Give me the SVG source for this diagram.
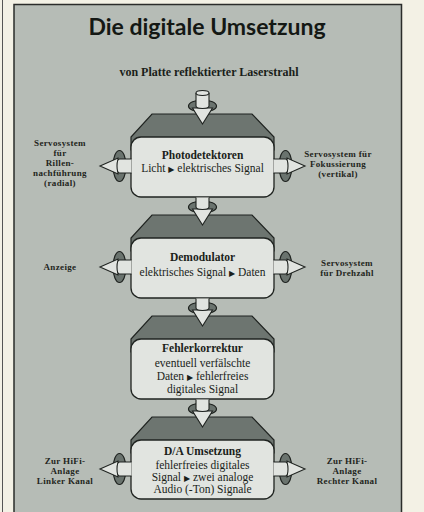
<svg xmlns="http://www.w3.org/2000/svg" width="424" height="512" viewBox="0 0 424 512">
<style>
.bg{fill:#f3f1e5}
.panel{fill:#b6bcb6;stroke:#2a2c2a;stroke-width:1.5}
.box{fill:#e1e4e0;stroke:#1f2320;stroke-width:1.3}
.hood{fill:#6d7570;stroke:#1f2320;stroke-width:1.2}
.disk{fill:#6a736e;stroke:#1f2320;stroke-width:1.2}
.lite{fill:#e1e4e0;stroke:#1f2320;stroke-width:1.1}
.title{font-family:"Lato","DejaVu Sans",sans-serif;font-weight:bold;font-size:23px;fill:#141814}
.sub{font-family:"Liberation Serif",serif;font-weight:bold;font-size:12px;fill:#1a1e1a}
.hd{font-family:"Liberation Serif",serif;font-weight:bold;font-size:11.5px;fill:#1a1e1a}
.tx{font-family:"Liberation Serif",serif;font-size:11.5px;fill:#1a1e1a}
.lb{font-family:"Liberation Serif",serif;font-weight:bold;font-size:9px;letter-spacing:0.35px;fill:#1f2520}
.ar{font-family:"DejaVu Sans",sans-serif;font-size:8px}
</style>
<rect class="bg" x="0" y="0" width="424" height="512"/>
<line x1="2.5" y1="0" x2="2.5" y2="512" stroke="#555" stroke-width="1"/>
<rect class="panel" x="14" y="4.5" width="387.5" height="520"/>
<text class="title" x="207" y="35" text-anchor="middle">Die digitale Umsetzung</text>
<text class="sub" x="209" y="76" text-anchor="middle">von Platte reflektierter Laserstrahl</text>

<g id="node-photodetektoren">
<polygon class="hood" points="152,114 252,114 274,137 274,150 131,150 131,137"/>
<rect class="box" x="131" y="137" width="143" height="60" rx="10"/>
<text class="hd" x="202.5" y="159" text-anchor="middle">Photodetektoren</text>
<text class="tx" x="202.5" y="172" text-anchor="middle">Licht <tspan class="ar">▶</tspan> elektrisches Signal</text>
</g>
<g id="node-demodulator">
<polygon class="hood" points="152,215 252,215 274,238 274,251 131,251 131,238"/>
<rect class="box" x="131" y="238" width="143" height="60" rx="10"/>
<text class="hd" x="202.5" y="261" text-anchor="middle">Demodulator</text>
<text class="tx" x="202.5" y="276" text-anchor="middle">elektrisches Signal <tspan class="ar">▶</tspan> Daten</text>
</g>
<g id="node-fehlerkorrektur">
<polygon class="hood" points="152,316 252,316 274,339 274,352 131,352 131,339"/>
<rect class="box" x="131" y="339" width="143" height="60" rx="10"/>
<text class="hd" x="202.5" y="352" text-anchor="middle">Fehlerkorrektur</text>
<text class="tx" x="202.5" y="367" text-anchor="middle">eventuell verfälschte</text>
<text class="tx" x="202.5" y="380" text-anchor="middle">Daten <tspan class="ar">▶</tspan> fehlerfreies</text>
<text class="tx" x="202.5" y="393" text-anchor="middle">digitales Signal</text>
</g>
<g id="node-da-umsetzung">
<polygon class="hood" points="152,417 252,417 274,440 274,453 131,453 131,440"/>
<rect class="box" x="131" y="440" width="143" height="59" rx="10"/>
<text class="hd" x="202.5" y="455" text-anchor="middle">D/A Umsetzung</text>
<text class="tx" x="202.5" y="469" text-anchor="middle">fehlerfreies digitales</text>
<text class="tx" x="202.5" y="481" text-anchor="middle">Signal <tspan class="ar">▶</tspan> zwei analoge</text>
<text class="tx" x="202.5" y="493" text-anchor="middle">Audio (-Ton) Signale</text>
</g>

<g id="labels">
<text class="lb" text-anchor="middle"><tspan x="60" y="146">Servosystem</tspan><tspan x="60" y="156">für</tspan><tspan x="60" y="166">Rillen-</tspan><tspan x="60" y="176">nachführung</tspan><tspan x="60" y="186">(radial)</tspan></text>
<text class="lb" text-anchor="middle"><tspan x="338" y="156.5">Servosystem für</tspan><tspan x="338" y="166.5">Fokussierung</tspan><tspan x="338" y="176.5">(vertikal)</tspan></text>
<text class="lb" x="60" y="270" text-anchor="middle">Anzeige</text>
<text class="lb" text-anchor="middle"><tspan x="347" y="266">Servosystem</tspan><tspan x="347" y="276">für Drehzahl</tspan></text>
<text class="lb" text-anchor="middle"><tspan x="65" y="464">Zur HiFi-</tspan><tspan x="65" y="474">Anlage</tspan><tspan x="65" y="484">Linker Kanal</tspan></text>
<text class="lb" text-anchor="middle"><tspan x="347" y="464">Zur HiFi-</tspan><tspan x="347" y="474">Anlage</tspan><tspan x="347" y="484">Rechter Kanal</tspan></text>
</g>

<defs>
<g id="down">
<ellipse class="disk" cx="0" cy="0" rx="14" ry="6"/>
<polygon class="lite" points="-10,2 10,2 0,18"/>
</g>
<g id="left">
<ellipse class="disk" cx="0" cy="0" rx="6.5" ry="15.5"/>
<polygon class="lite" points="-1.5,-8 -1.5,8 -19.5,0"/>
<path class="lite" d="M12,-7 H0 A2.5,7 0 0 0 0,7 H12"/>
</g>
<g id="right">
<ellipse class="disk" cx="0" cy="0" rx="6.5" ry="15.5"/>
<polygon class="lite" points="1.5,-8 1.5,8 19.5,0"/>
<path class="lite" d="M-12,-7 H0 A2.5,7 0 0 1 0,7 H-12"/>
</g>
</defs>

<g id="connectors">
<use href="#down" x="202.5" y="106"/>
<path class="lite" d="M196,93 V106 A6.5,2.5 0 0 0 209,106 V93"/>
<ellipse class="lite" cx="202.5" cy="93" rx="6.5" ry="2.5"/>
<use href="#down" x="202.5" y="207"/>
<path class="lite" d="M196,197.5 V207 A6.5,2.5 0 0 0 209,207 V197.5"/>
<use href="#down" x="202.5" y="308"/>
<path class="lite" d="M196,298.5 V308 A6.5,2.5 0 0 0 209,308 V298.5"/>
<use href="#down" x="202.5" y="409"/>
<path class="lite" d="M196,399.5 V409 A6.5,2.5 0 0 0 209,409 V399.5"/>
<use href="#left" x="119.5" y="166"/>
<use href="#right" x="285.5" y="166"/>
<use href="#left" x="119.5" y="267"/>
<use href="#right" x="285.5" y="267"/>
<use href="#left" x="119.5" y="469"/>
<use href="#right" x="285.5" y="469"/>
</g>
</svg>
